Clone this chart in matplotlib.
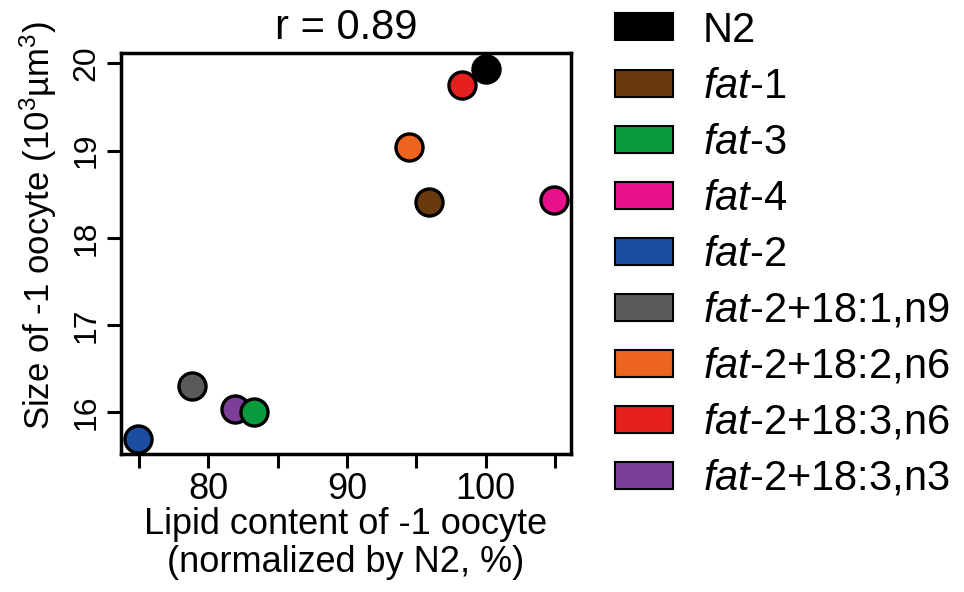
import matplotlib
matplotlib.use("Agg")
import matplotlib.pyplot as plt
from matplotlib.patches import Patch

plt.rcParams["font.family"] = ["Liberation Sans", "DejaVu Sans"]
plt.rcParams["mathtext.fontset"] = "custom"
plt.rcParams["mathtext.rm"] = "Liberation Sans"
plt.rcParams["mathtext.it"] = "Liberation Sans:italic"
plt.rcParams["mathtext.bf"] = "Liberation Sans:bold"

# data
strains = ["N2", "fat-1", "fat-3", "fat-4", "fat-2",
           "fat-2+18:1,n9", "fat-2+18:2,n6", "fat-2+18:3,n6", "fat-2+18:3,n3"]
labels = ["N2", r"$\mathit{fat}$-$\mathit{1}$", r"$\mathit{fat}$-$\mathit{3}$",
          r"$\mathit{fat}$-$\mathit{4}$", r"$\mathit{fat}$-$\mathit{2}$",
          r"$\mathit{fat}$-$\mathit{2}$+18:1,n9", r"$\mathit{fat}$-$\mathit{2}$+18:2,n6",
          r"$\mathit{fat}$-$\mathit{2}$+18:3,n6", r"$\mathit{fat}$-$\mathit{2}$+18:3,n3"]
colors = ["#000000", "#6b3a0c", "#0a9a3e", "#e8118b", "#1c4ea0",
          "#5a5a5a", "#ec6420", "#e5201e", "#7b3f98"]
lipid = [100.05, 95.9, 83.3, 104.9, 74.9, 78.8, 94.5, 98.3, 81.9]
size = [19.94, 18.41, 16.00, 18.43, 15.69, 16.30, 19.04, 19.75, 16.04]
r_value = 0.89

fig = plt.figure(figsize=(9.64, 5.92), dpi=100)
ax = fig.add_axes([121 / 964, 1 - 454 / 592, 450 / 964, 401 / 592])

# draw in reverse so N2 ends up on top like the original
for i in [4, 5, 8, 2, 6, 1, 3, 7, 0]:
    ax.scatter(lipid[i], size[i], s=380, c=colors[i], edgecolors="black",
               linewidths=2.4, zorder=3, clip_on=False)

ax.set_xlim(73.7, 106.15)
ax.set_ylim(15.52, 20.12)
ax.set_xticks([75, 80, 85, 90, 95, 100, 105])
ax.set_xticklabels(["", "80", "", "90", "", "100", ""])
ax.set_yticks([16, 17, 18, 19, 20])
ax.tick_params(axis="both", direction="out", length=10, width=2.2)
ax.tick_params(axis="x", pad=3, labelsize=26)
ax.tick_params(axis="y", pad=4, labelsize=23)
for lab in ax.get_yticklabels():
    lab.set_rotation(90)
    lab.set_va("center")
for sp in ax.spines.values():
    sp.set_linewidth(2.5)

ax.set_xlabel("Lipid content of -1 oocyte\n(normalized by N2, %)", fontsize=26,
              linespacing=1.12, labelpad=0)
ax.set_ylabel(r"Size of -1 oocyte (10$^3$µm$^3$)", fontsize=25)
ax.yaxis.set_label_coords(-0.138, 0.57)
ax.set_title(f"r = {r_value:.2f}", fontsize=30, pad=10)

handles = [Patch(facecolor=c, edgecolor="black", linewidth=1.5) for c in colors]
fig.legend(handles, labels, loc="upper left", bbox_to_anchor=(615 / 964, 0.982),
           frameon=False, fontsize=30, handlelength=1.39, handleheight=0.62,
           handletextpad=0.72, labelspacing=0.385, borderpad=0, borderaxespad=0)

fig.savefig("out.png", dpi=100)
